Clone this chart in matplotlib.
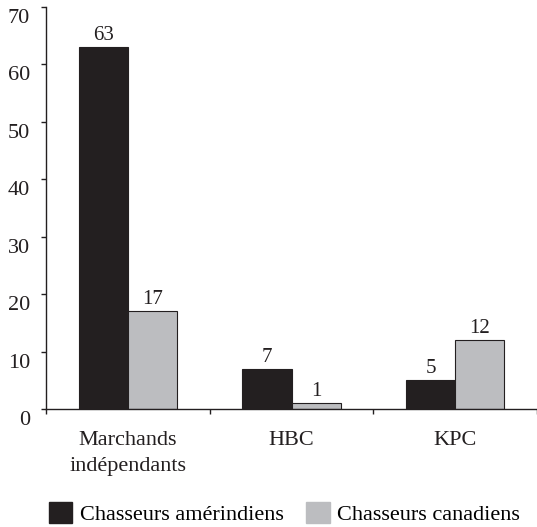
import matplotlib.pyplot as plt
import matplotlib.transforms as mtransforms
from matplotlib.patches import Patch

categories = ["Marchands\nindépendants", "HBC", "KPC"]
amerindiens = [63, 7, 5]
canadiens = [17, 1, 12]
series_names = ["Chasseurs amérindiens", "Chasseurs canadiens"]

plt.rcParams['font.family'] = ['Liberation Serif', 'DejaVu Serif']
plt.rcParams['font.size'] = 16

dark = "#231f20"
grey = "#bcbdc0"

fig = plt.figure(figsize=(5.37, 5.27), dpi=100)
ax = fig.add_axes([46 / 537, 1 - 409 / 527, 1 - 46 / 537, (409 - 7) / 527])

x = list(range(len(categories)))
w = 0.3
b1 = ax.bar([i - w / 2 for i in x], amerindiens, w, color=dark, edgecolor=dark, linewidth=0.8)
b2 = ax.bar([i + w / 2 for i in x], canadiens, w, color=grey, edgecolor=dark, linewidth=0.8)

for bars, vals in ((b1, amerindiens), (b2, canadiens)):
    for r, v in zip(bars, vals):
        ax.text(r.get_x() + r.get_width() / 2, v + 0.4, str(v),
                ha="center", va="bottom", fontsize=15, color=dark)

ax.set_xlim(-0.5, 2.5)
ax.set_ylim(0, 70)
ax.set_yticks(range(0, 71, 10))
ax.set_xticks(x)
ax.set_xticklabels(categories, linespacing=1.45)
ax.set_xticks([-0.5, 0.5, 1.5, 2.5], minor=True)

ax.spines["top"].set_visible(False)
ax.spines["right"].set_visible(False)
for s in ("left", "bottom"):
    ax.spines[s].set_color(dark)
    ax.spines[s].set_linewidth(1.0)

ax.tick_params(axis="x", which="major", length=0, pad=16, colors=dark, labelsize=16)
ax.tick_params(axis="x", which="minor", length=3.6, width=1.0, direction="out", color=dark)
ax.tick_params(axis="y", length=3.6, width=1.0, direction="out", pad=8, colors=dark, labelsize=16)

# y labels sit a bit below their ticks in the original
shift = mtransforms.ScaledTranslation(0, -0.09, fig.dpi_scale_trans)
for lab in ax.get_yticklabels():
    lab.set_transform(lab.get_transform() + shift)

handles = [Patch(facecolor=dark, edgecolor=dark), Patch(facecolor=grey, edgecolor=grey)]
fig.legend(handles, series_names, loc="center", bbox_to_anchor=(0.53, 0.025),
           ncol=2, frameon=False, handlelength=1.05, handleheight=1.05,
           handletextpad=0.35, columnspacing=1.0, fontsize=16, borderpad=0)

fig.savefig("out.png", dpi=100)
